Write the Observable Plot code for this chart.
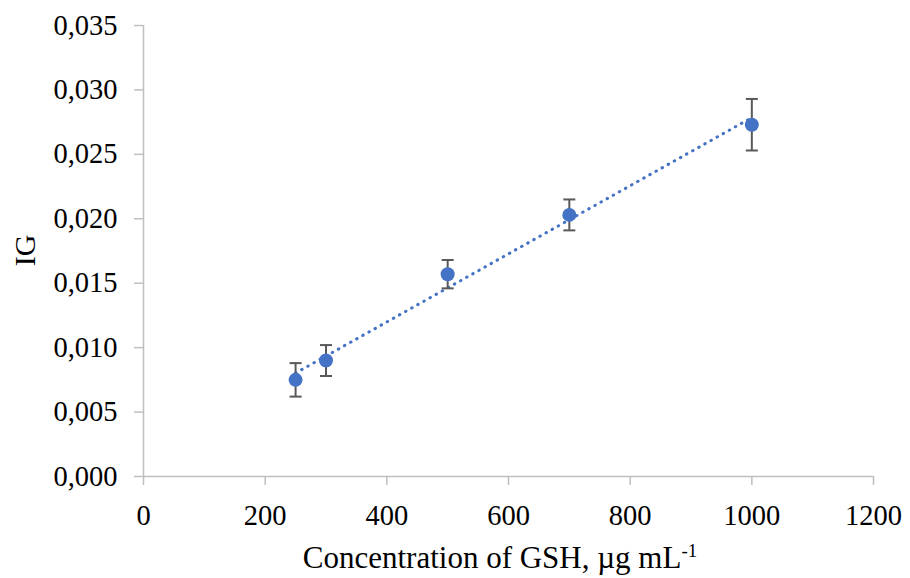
<!DOCTYPE html>
<html>
<head>
<meta charset="utf-8">
<script src="https://cdn.jsdelivr.net/npm/d3@7"></script>
<script src="https://cdn.jsdelivr.net/npm/@observablehq/plot@0.6"></script>
<style>
  html, body { margin: 0; padding: 0; background: #fff; }
  #chart svg { display: block; }
</style>
</head>
<body>
<div id="chart"></div>
<script>
// Data
const concentration = [250, 300, 500, 700, 1000];        // µg mL-1
const igValues      = [0.0075, 0.0090, 0.0157, 0.0203, 0.0273];
const igErrors      = [0.0013, 0.0012, 0.0011, 0.0012, 0.0020];
const xTicks = [0, 200, 400, 600, 800, 1000, 1200];
const yTicks = [0, 0.005, 0.010, 0.015, 0.020, 0.025, 0.030, 0.035];
const xTitle = "Concentration of GSH, µg mL";
const xTitleSup = "-1";
const yTitle = "IG";

const data = concentration.map((c, i) => ({x: c, y: igValues[i], e: igErrors[i]}));

const blue = "#4472c4";
const axisGray = "#bfbfbf";
const barGray = "#595959";
const font = "'Liberation Serif', 'Times New Roman', serif";

const capSymbol = {
  draw(ctx, size) { ctx.moveTo(-6, 0); ctx.lineTo(6, 0); }
};

const fmt = v => d3.format(".3f")(v).replace(".", ",");

const plot = Plot.plot({
  width: 910,
  height: 578,
  marginLeft: 143,
  marginRight: 37,
  marginTop: 25,
  marginBottom: 102,
  style: {fontFamily: font, fontSize: "28.5px", color: "#000", background: "#fff"},
  x: {domain: [0, 1200]},
  y: {domain: [0, 0.035]},
  marks: [
    Plot.ruleY([0], {stroke: axisGray, strokeWidth: 1.5}),
    Plot.ruleX([0], {stroke: axisGray, strokeWidth: 1.5}),
    Plot.axisX({ticks: xTicks, tickSize: 9, tickPadding: 19, stroke: axisGray, strokeWidth: 1.5, tickFormat: d3.format("d"), label: null, fill: "#000", fontSize: 28.5}),
    Plot.axisY({ticks: yTicks, tickSize: 9, tickPadding: 17, stroke: axisGray, strokeWidth: 1.5, tickFormat: fmt, label: null, fill: "#000", fontSize: 28.5}),
    Plot.linearRegressionY(data, {x: "x", y: "y", ci: 0, stroke: blue, strokeWidth: 3, strokeDasharray: "0.5,6.5", strokeLinecap: "round"}),
    Plot.ruleX(data, {x: "x", y1: d => d.y - d.e, y2: d => d.y + d.e, stroke: barGray, strokeWidth: 2}),
    Plot.dot(data, {x: "x", y: d => d.y + d.e, symbol: capSymbol, stroke: barGray, strokeWidth: 2}),
    Plot.dot(data, {x: "x", y: d => d.y - d.e, symbol: capSymbol, stroke: barGray, strokeWidth: 2}),
    Plot.dot(data, {x: "x", y: "y", r: 7, fill: blue, stroke: "none"})
  ]
});

// Axis titles
const svg = d3.select(plot);
const xr = plot.scale("x").range;
const yr = plot.scale("y").range;
const xt = svg.append("text")
  .attr("x", (xr[0] + xr[1]) / 2 - 8)
  .attr("y", 568)
  .attr("text-anchor", "middle")
  .attr("font-family", font)
  .attr("font-size", 31)
  .attr("fill", "#000");
xt.append("tspan").text(xTitle);
xt.append("tspan").attr("dy", -11).attr("font-size", 19).text(xTitleSup);

svg.append("text")
  .attr("transform", `translate(35, ${(yr[0] + yr[1]) / 2}) rotate(-90)`)
  .attr("text-anchor", "middle")
  .attr("font-family", font)
  .attr("font-size", 30)
  .attr("fill", "#000")
  .text(yTitle);

document.getElementById("chart").appendChild(plot);
</script>
</body>
</html>
